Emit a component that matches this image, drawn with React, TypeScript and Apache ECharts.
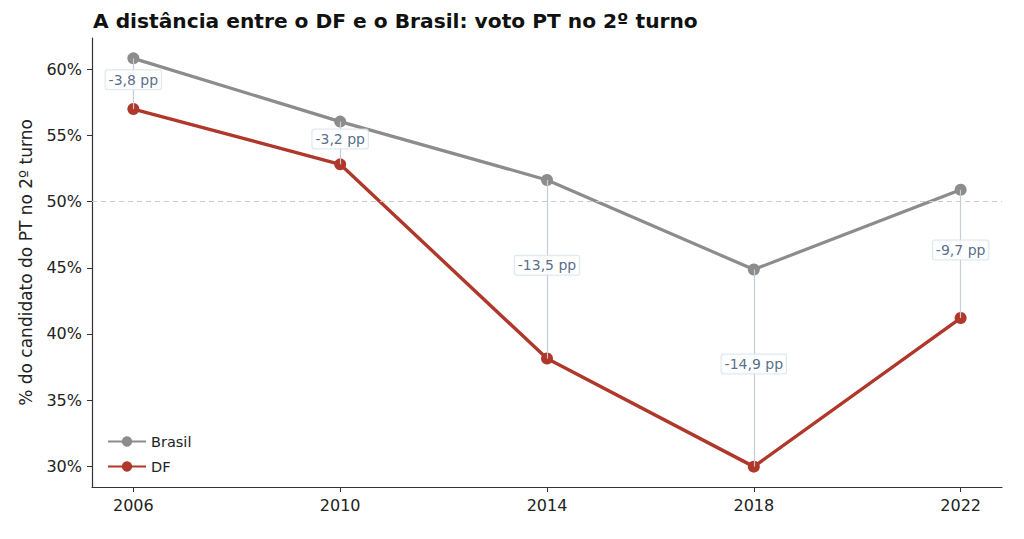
import React, { useEffect, useRef } from "react";
import * as echarts from "echarts";

const years = [2006, 2010, 2014, 2018, 2022];
const brasil = [60.83, 56.05, 51.64, 44.87, 50.9];
const df = [57.0, 52.82, 38.14, 29.97, 41.2];
const gapLabels = ["-3,8 pp", "-3,2 pp", "-13,5 pp", "-14,9 pp", "-9,7 pp"];
const yTicks = [30, 35, 40, 45, 50, 55, 60];

const FONT = "DejaVu Sans";

export default function App() {
  const ref = useRef<HTMLDivElement>(null);
  useEffect(() => {
    if (!ref.current) return;
    const chart = echarts.init(ref.current, undefined, { renderer: "svg" });
    const gapLines = years.map((y, i) => [
      { coord: [y, brasil[i]] },
      { coord: [y, df[i]] },
    ]);
    const mids = years.map((y, i) => [y, (brasil[i] + df[i]) / 2 + 0.3, gapLabels[i]]);
    chart.setOption({
      animation: false,
      textStyle: { fontFamily: FONT },
      title: {
        text: "A distância entre o DF e o Brasil: voto PT no 2º turno",
        left: 88,
        top: 6,
        textStyle: { fontFamily: FONT, fontSize: 20.2, fontWeight: "bold", color: "#111" },
      },
      grid: { left: 92, right: 22, top: 38, bottom: 52 },
      legend: {
        left: 102,
        top: 429,
        orient: "vertical",
        itemWidth: 38,
        itemHeight: 13,
        itemGap: 10,
        textStyle: { fontFamily: FONT, fontSize: 14.5, color: "#222" },
        data: ["Brasil", "DF"],
      },
      xAxis: {
        type: "value",
        min: 2005.2,
        max: 2022.8,
        splitLine: { show: false },
        axisLine: { lineStyle: { color: "#333", width: 1.2 } },
        axisTick: { customValues: years, length: 5, lineStyle: { color: "#333" } },
        axisLabel: {
          customValues: years,
          formatter: (v: number) => String(Math.round(v)),
          fontFamily: FONT,
          fontSize: 16,
          color: "#222",
          margin: 10,
        },
      },
      yAxis: {
        type: "value",
        min: 28.43,
        max: 62.37,
        name: "% do candidato do PT no 2º turno",
        nameLocation: "middle",
        nameGap: 58,
        nameTextStyle: { fontFamily: FONT, fontSize: 17, color: "#222" },
        splitLine: { show: false },
        axisLine: { show: true, lineStyle: { color: "#333", width: 1.2 } },
        axisTick: { show: true, customValues: yTicks, length: 5, lineStyle: { color: "#333" } },
        axisLabel: {
          customValues: yTicks,
          formatter: (v: number) => Math.round(v) + "%",
          fontFamily: FONT,
          fontSize: 16,
          color: "#222",
          margin: 10,
        },
      },
      series: [
        {
          name: "gaps",
          type: "line",
          data: [],
          z: 1,
          markLine: {
            silent: true,
            symbol: "none",
            label: { show: false },
            lineStyle: { color: "#c5ced6", width: 1.2, type: "solid" },
            data: [
              ...gapLines,
              {
                yAxis: 50,
                lineStyle: { color: "#c8ccd2", type: [5, 4], width: 1 },
              },
            ],
          },
        },
        {
          name: "Brasil",
          type: "line",
          data: years.map((y, i) => [y, brasil[i]]),
          color: "#8c8c8c",
          lineStyle: { width: 3.2 },
          symbol: "circle",
          symbolSize: 12,
          z: 3,
        },
        {
          name: "DF",
          type: "line",
          data: years.map((y, i) => [y, df[i]]),
          color: "#b0382b",
          lineStyle: { width: 3.4 },
          symbol: "circle",
          symbolSize: 12,
          z: 3,
        },
        {
          name: "labels",
          type: "scatter",
          data: mids,
          symbolSize: 0,
          z: 5,
          silent: true,
          label: {
            show: true,
            position: "inside",
            formatter: (p: any) => p.data[2],
            fontFamily: FONT,
            fontSize: 14,
            color: "#2a4868",
            backgroundColor: "#ffffff",
            borderColor: "#d4e0ea",
            borderWidth: 1,
            borderRadius: 2,
            padding: [3, 3, 2, 3],
          },
        },
      ],
    });
    return () => chart.dispose();
  }, []);
  return <div ref={ref} style={{ width: 1024, height: 539, margin: -8 }} />;
}
